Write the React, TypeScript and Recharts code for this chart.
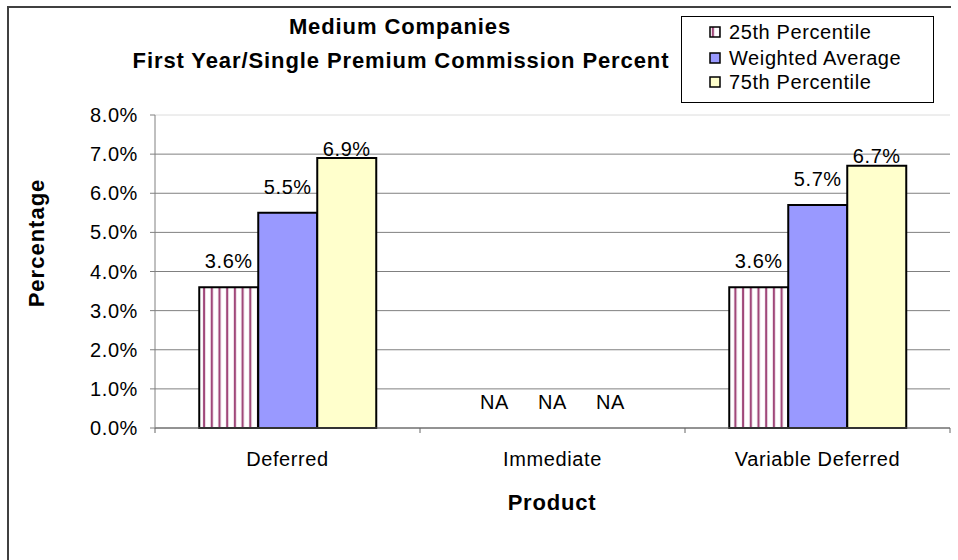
import { Bar, BarChart, CartesianGrid, LabelList, XAxis, YAxis } from "recharts";

const categories = ["Deferred", "Immediate", "Variable Deferred"];
// null = NA in the source table
const p25Values = [3.6, null, 3.6];
const weightedValues = [5.5, null, 5.7];
const p75Values = [6.9, null, 6.7];
const yTicks = [0, 1, 2, 3, 4, 5, 6, 7, 8];

const seriesNames = ["25th Percentile", "Weighted Average", "75th Percentile"];
const seriesValues = [p25Values, weightedValues, p75Values];

const W = 958;
const H = 560;
const margin = { top: 115, right: 8, bottom: 92, left: 75 };
const Y_AXIS_W = 80;
const X_AXIS_H = 40;
const PLOT_W = W - margin.left - margin.right - Y_AXIS_W;
const CAT_GAP = 0.167;

const FONT = "'Liberation Sans', Arial, sans-serif";
const SPACING = 0.6;

const fmt = (v: number | null) => (v == null ? "NA" : `${v.toFixed(1)}%`);

const chartData = categories.map((name, i) => ({
  name,
  p25: p25Values[i] ?? 0,
  weighted: weightedValues[i] ?? 0,
  p75: p75Values[i] ?? 0,
  p25Label: fmt(p25Values[i]),
  weightedLabel: fmt(weightedValues[i]),
  p75Label: fmt(p75Values[i]),
}));

const makeLabel = (offset: number) => (props: any) => {
  const { x, y, width, height, value } = props;
  if (!height) return null;
  return (
    <text
      x={x + width / 2}
      y={y - offset}
      textAnchor="middle"
      fontSize={20}
      fontFamily={FONT}
      fill="#000"
      style={{ letterSpacing: SPACING }}
    >
      {value}
    </text>
  );
};

const CategoryTick = (props: any) => {
  const { x, y, payload, index } = props;
  const band = PLOT_W / categories.length;
  const barW = Math.floor((band * (1 - 2 * CAT_GAP)) / 3);
  const last = index === categories.length - 1;
  return (
    <g>
      <line x1={x - band / 2} x2={x - band / 2} y1={y - 5} y2={y} stroke="#666" />
      {last && <line x1={x + band / 2} x2={x + band / 2} y1={y - 5} y2={y} stroke="#666" />}
      {/* NA markers for missing values, sitting where the bars would be */}
      {seriesValues.map((vals, s) =>
        vals[index] == null ? (
          <text
            key={s}
            x={x + (s - 1) * barW}
            y={y - 5 - 19}
            textAnchor="middle"
            fontSize={20}
            fontFamily={FONT}
            fill="#000"
            style={{ letterSpacing: SPACING }}
          >
            NA
          </text>
        ) : null
      )}
      <text x={x} y={y + 33} textAnchor="middle" fontSize={20} fontFamily={FONT} fill="#000" style={{ letterSpacing: SPACING }}>
        {payload.value}
      </text>
    </g>
  );
};

const GridLine = (props: any) => {
  const { x1, x2, y1, y2 } = props;
  const top = Math.abs(y1 - margin.top) < 1;
  return <line x1={x1} x2={x2} y1={y1} y2={y2} stroke={top ? "#dcdcdc" : "#808080"} strokeWidth={1} />;
};

function LegendSwatch({ idx }: { idx: number }) {
  const fills = ["url(#stripes25)", "#9999FF", "#FFFFCC"];
  return (
    <svg width={12} height={12} style={{ display: "block" }}>
      <rect x={1} y={1} width={10} height={10} fill={fills[idx]} stroke="#000" strokeWidth={1.5} />
    </svg>
  );
}

export default function App() {
  return (
    <div style={{ position: "absolute", left: 0, top: 0, width: W, height: H, background: "#fff", fontFamily: FONT }}>
      {/* frame */}
      <div style={{ position: "absolute", left: 7, top: 6, width: 942, height: 554, borderTop: "2px solid #404040", borderLeft: "2px solid #404040" }} />

      <BarChart
        width={W}
        height={H}
        data={chartData}
        margin={margin}
        barCategoryGap={`${CAT_GAP * 100}%`}
        barGap={0}
        style={{ position: "absolute", left: 0, top: 0 }}
      >
        <defs>
          <pattern id="stripes25" patternUnits="userSpaceOnUse" width={7.7} height={10}>
            <rect width={7.7} height={10} fill="#fff" />
            <rect x={2.8} width={2.2} height={10} fill="#A0487A" />
          </pattern>
        </defs>
        <CartesianGrid vertical={false} horizontal={(p: any) => <GridLine {...p} />} />
        <XAxis
          dataKey="name"
          height={X_AXIS_H}
          axisLine={{ stroke: "#666" }}
          tickLine={false}
          tickSize={5}
          tickMargin={0}
          tick={<CategoryTick />}
          interval={0}
        />
        <YAxis
          width={Y_AXIS_W}
          domain={[0, 8]}
          ticks={yTicks}
          tickFormatter={(v: number) => `${v.toFixed(1)}%`}
          axisLine={{ stroke: "#808080" }}
          tickLine={{ stroke: "#808080" }}
          tickSize={5}
          tickMargin={12}
          tick={{ fontSize: 20, fontFamily: FONT, fill: "#000", letterSpacing: SPACING }}
          interval={0}
        />
        <Bar dataKey="p25" fill="url(#stripes25)" stroke="#000" strokeWidth={2} isAnimationActive={false}>
          <LabelList dataKey="p25Label" content={makeLabel(19)} />
        </Bar>
        <Bar dataKey="weighted" fill="#9999FF" stroke="#000" strokeWidth={2} isAnimationActive={false}>
          <LabelList dataKey="weightedLabel" content={makeLabel(19)} />
        </Bar>
        <Bar dataKey="p75" fill="#FFFFCC" stroke="#000" strokeWidth={2} isAnimationActive={false}>
          <LabelList dataKey="p75Label" content={makeLabel(2.5)} />
        </Bar>
      </BarChart>

      {/* title */}
      <div style={{ position: "absolute", left: 0, top: 16, width: 800, textAlign: "center", fontSize: 22, lineHeight: "22px", fontWeight: "bold", letterSpacing: 0.9 }}>
        Medium Companies
      </div>
      <div style={{ position: "absolute", left: 0, top: 50, width: 802, textAlign: "center", fontSize: 22, lineHeight: "22px", fontWeight: "bold", letterSpacing: 0.9 }}>
        First Year/Single Premium Commission Percent
      </div>

      {/* legend */}
      <div style={{ position: "absolute", left: 681, top: 16, width: 251, height: 85, border: "1px solid #000", background: "#fff" }}>
        {seriesNames.map((s, i) => (
          <div key={s} style={{ position: "absolute", left: 27, top: [5, 31, 55][i], height: 20, display: "flex", alignItems: "center", fontSize: 20, lineHeight: "20px", letterSpacing: SPACING }}>
            <LegendSwatch idx={i} />
            <span style={{ marginLeft: 8 }}>{s}</span>
          </div>
        ))}
      </div>

      {/* axis titles */}
      <div style={{ position: "absolute", left: 37 - 90, top: 243 - 11, width: 180, textAlign: "center", fontSize: 22, lineHeight: "22px", fontWeight: "bold", letterSpacing: 1, transform: "rotate(-90deg)" }}>
        Percentage
      </div>
      <div style={{ position: "absolute", left: 552 - 90, top: 503 - 11, width: 180, textAlign: "center", fontSize: 22, lineHeight: "22px", fontWeight: "bold", letterSpacing: 0.8 }}>
        Product
      </div>
    </div>
  );
}
